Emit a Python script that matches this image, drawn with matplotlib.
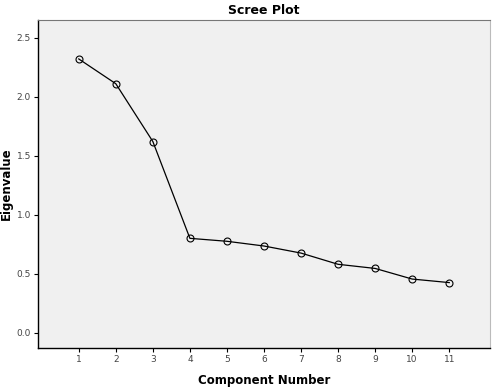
import matplotlib
matplotlib.use("Agg")
import matplotlib.pyplot as plt

components = [1, 2, 3, 4, 5, 6, 7, 8, 9, 10, 11]
eigenvalues = [2.32, 2.11, 1.62, 0.80, 0.775, 0.735, 0.675, 0.58, 0.545, 0.455, 0.425]
yticks = [0.0, 0.5, 1.0, 1.5, 2.0, 2.5]

fig = plt.figure(figsize=(5, 3.92), dpi=100)
ax = fig.add_axes([0.076, 0.112, 0.904, 0.837])
ax.set_facecolor("#f0f0f0")

ax.plot(components, eigenvalues, color="black", linewidth=0.9,
        marker="o", markersize=5, markerfacecolor="none",
        markeredgecolor="black", markeredgewidth=0.8)

ax.set_xlim(-0.1, 12.1)
ax.set_ylim(-0.13, 2.65)
ax.set_xticks(components)
ax.set_yticks(yticks)
ax.set_yticklabels(["%.1f" % v for v in yticks])

ax.tick_params(axis="both", labelsize=6.5, colors="black", length=3, width=0.8,
               labelcolor="#444444", pad=2)
for s in ["left", "bottom"]:
    ax.spines[s].set_color("black")
    ax.spines[s].set_linewidth(1.0)
ax.spines["top"].set_color("#777777")
ax.spines["right"].set_color("#bbbbbb")

ax.set_title("Scree Plot", fontsize=9, fontweight="bold", pad=4)
ax.set_xlabel("Component Number", fontsize=8.5, fontweight="bold", labelpad=7)
ax.set_ylabel("Eigenvalue", fontsize=8.5, fontweight="bold")
ax.yaxis.set_label_coords(-0.056, 0.5)

fig.savefig("out.png", dpi=100)
